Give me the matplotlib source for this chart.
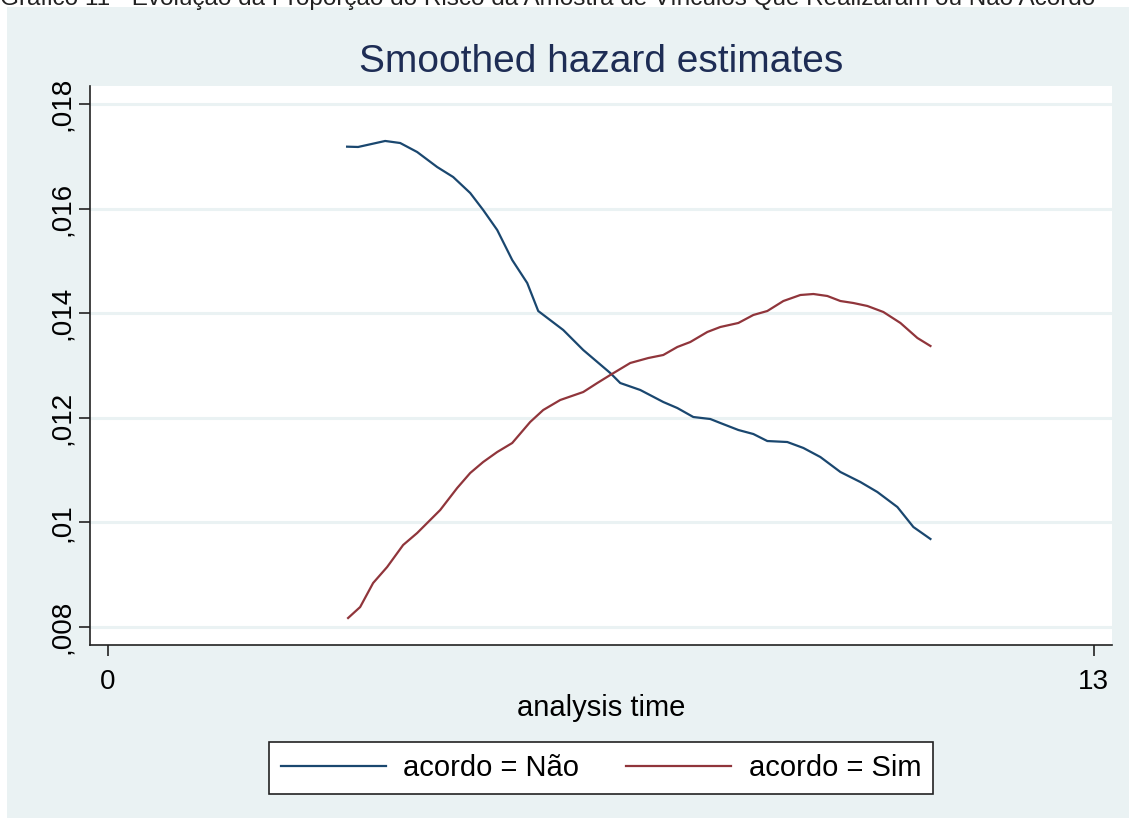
import numpy as np
import matplotlib.pyplot as plt
from matplotlib.patches import Rectangle

plt.rcParams['font.family'] = ['Liberation Sans', 'DejaVu Sans']

# Smoothed hazard estimates
t_nao = [3.154, 3.299, 3.656, 3.854, 4.078, 4.342, 4.553, 4.778, 4.949, 5.134,
         5.332, 5.530, 5.675, 6.005, 6.269, 6.625, 6.757, 7.021, 7.325, 7.510,
         7.721, 7.945, 8.077, 8.315, 8.513, 8.697, 8.961, 9.173, 9.397, 9.661,
         9.925, 10.149, 10.413, 10.624, 10.849]
h_nao = [0.017184, 0.017178, 0.017293, 0.017254, 0.017082, 0.016795, 0.016604,
         0.016298, 0.015973, 0.015591, 0.015017, 0.014577, 0.014042, 0.013679,
         0.013296, 0.012857, 0.012665, 0.012532, 0.012302, 0.012187, 0.012015,
         0.011977, 0.011901, 0.011767, 0.011690, 0.011556, 0.011537, 0.011423,
         0.011250, 0.010964, 0.010772, 0.010581, 0.010294, 0.009912, 0.009683]

t_sim = [3.167, 3.326, 3.497, 3.682, 3.893, 4.078, 4.250, 4.382, 4.606, 4.778,
         4.949, 5.134, 5.332, 5.569, 5.741, 5.965, 6.269, 6.454, 6.625, 6.889,
         7.127, 7.325, 7.510, 7.681, 7.906, 8.077, 8.315, 8.513, 8.697, 8.909,
         9.133, 9.305, 9.489, 9.661, 9.832, 10.017, 10.228, 10.453, 10.677, 10.849]
h_sim = [0.008172, 0.008382, 0.008841, 0.009147, 0.009568, 0.009797, 0.010046,
         0.010237, 0.010658, 0.010945, 0.011155, 0.011346, 0.011518, 0.011920,
         0.012149, 0.012340, 0.012493, 0.012665, 0.012818, 0.013048, 0.013143,
         0.013201, 0.013354, 0.013449, 0.013641, 0.013736, 0.013813, 0.013966,
         0.014042, 0.014233, 0.014348, 0.014367, 0.014329, 0.014233, 0.014195,
         0.014138, 0.014023, 0.013813, 0.013526, 0.013373]

yticks = [0.008, 0.010, 0.012, 0.014, 0.016, 0.018]
ytick_labels = [',008', ',01', ',012', ',014', ',016', ',018']
xticks = [0, 13]
xtick_labels = ['0', '13']

bg = '#EAF2F3'
navy = '#1A476F'
maroon = '#90353B'

W, H = 1134, 821
fig = plt.figure(figsize=(W / 100, H / 100), dpi=100, facecolor='white')

# light Stata-like outer panel, behind everything
fig.patches.append(Rectangle((7 / W, 3 / H), 1122 / W, 811 / H,
                             transform=fig.transFigure, facecolor=bg,
                             edgecolor='none', zorder=-5))

fig.text(0.0, 1 - 5 / H, 'Gráfico 11 - Evolução da Proporção do Risco da Amostra de '
         'Vínculos Que Realizaram ou Não Acordo', fontsize=17.5, ha='left',
         va='baseline', color='#222222')

ax = fig.add_axes([90 / W, 1 - 645 / H, 1022 / W, 559 / H])
ax.set_facecolor('white')

l1, = ax.plot(t_nao, h_nao, color=navy, lw=1.6, label='acordo = Não')
l2, = ax.plot(t_sim, h_sim, color=maroon, lw=1.6, label='acordo = Sim')

ax.set_xlim(-0.2376, 13.244)
ax.set_ylim(0.007656, 0.018344)
ax.set_yticks(yticks)
ax.set_yticklabels(ytick_labels, rotation=90, va='center')
ax.set_xticks(xticks)
ax.set_xticklabels(xtick_labels)
ax.grid(axis='y', color=bg, lw=2.2)
ax.set_axisbelow(True)

for s in ['top', 'right']:
    ax.spines[s].set_visible(False)
for s in ['left', 'bottom']:
    ax.spines[s].set_color('#222222')
    ax.spines[s].set_linewidth(1.2)
ax.tick_params(axis='both', direction='out', length=8, width=1.2,
               color='#222222', labelsize=20)
ax.tick_params(axis='y', pad=3)
ax.tick_params(axis='x', pad=9)

fig.text(601 / W, 1 - 62 / H, 'Smoothed hazard estimates', fontsize=28,
         color='#1E2D55', ha='center', va='center')
fig.text(601 / W, 1 - 708 / H, 'analysis time', fontsize=21,
         ha='center', va='center')

leg = fig.legend(handles=[l1, l2], loc='center', bbox_to_anchor=(601 / W, 1 - 768 / H),
                 ncol=2, fontsize=21, frameon=True, fancybox=False,
                 edgecolor='#222222', facecolor='white', framealpha=1,
                 handlelength=3.6, handletextpad=0.6, columnspacing=1.6,
                 borderpad=0.4)
leg.get_frame().set_linewidth(1.2)

fig.savefig('out.png', dpi=100, facecolor='white')
